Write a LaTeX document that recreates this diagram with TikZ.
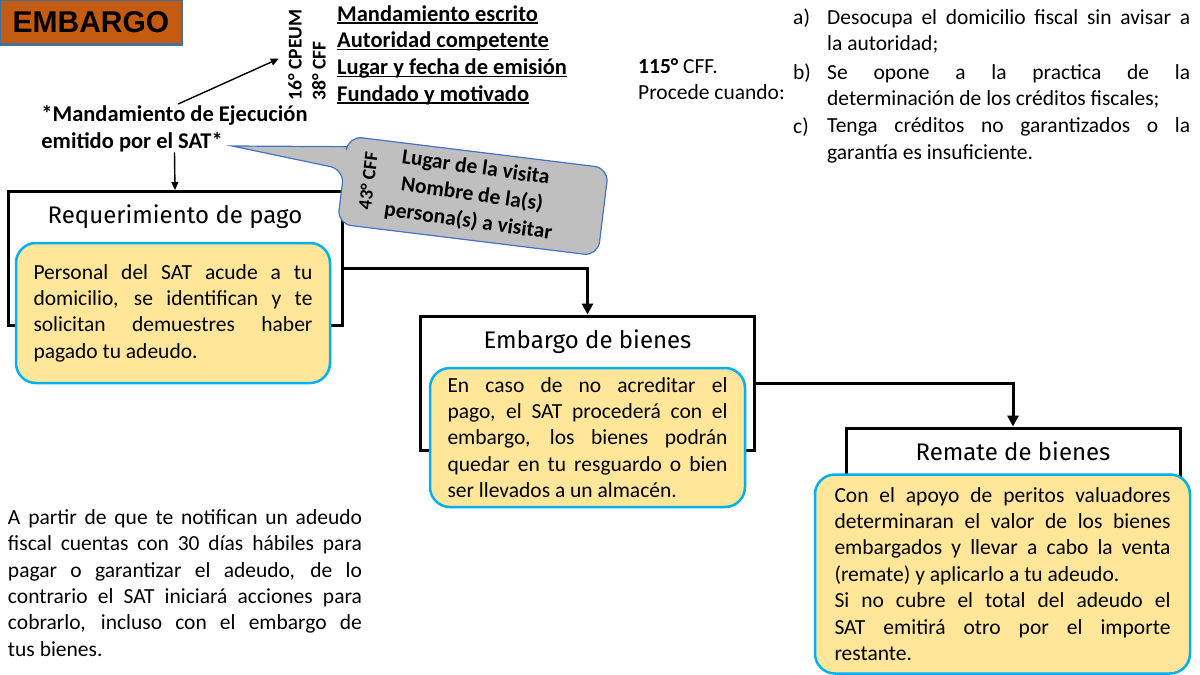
\documentclass[tikz,border=0pt]{standalone}
\usepackage{fontspec}
\setmainfont{Carlito}
\newfontfamily\headfont{Fira Sans}
\newfontfamily\tagfont{Liberation Sans}
\usetikzlibrary{positioning,arrows.meta,calc}
\definecolor{notefill}{HTML}{FFE699}
\definecolor{noteline}{HTML}{00B0F0}
\definecolor{tagfill}{HTML}{C55A11}
\definecolor{tagline}{HTML}{41719C}
\definecolor{bubblefill}{HTML}{BFBFBF}
\definecolor{bubbleline}{HTML}{4472C4}
\newcommand{\txt}{\fontsize{21.5}{26.4}\selectfont}
\newcommand{\btxt}{\fontsize{22.5}{26.7}\selectfont\bfseries}
\newcommand{\reqline}[1]{\setbox0\hbox{#1}\rlap{\rule[-2.5pt]{\wd0}{1.4pt}}\box0}
\tolerance=10000

\begin{document}
\begin{tikzpicture}[x=1pt, y=-1pt,
    stage/.style={draw, line width=3pt, minimum width=334pt, minimum height=134pt},
    stagetitle/.style={inner sep=0pt, font=\headfont\fontsize{24}{28}\selectfont},
    note/.style={draw=noteline, fill=notefill, line width=2.5pt, rounded corners=20pt, align=justify, font=\txt, inner xsep=17pt, inner ysep=6pt},
    plain/.style={font=\txt, inner sep=0pt},
    flow/.style={line width=3pt, -{Triangle[length=11pt,width=11pt]}},
    pointer/.style={line width=1.4pt, -{Triangle[length=8pt,width=7pt]}},
    article/.style={rotate=90, font=\bfseries\fontsize{19.5}{20}\selectfont, inner sep=1pt}
]
\useasboundingbox (0,0) rectangle (1200,675);

% Title tag
\node[draw=tagline, fill=tagfill, line width=2.5pt, minimum width=182pt, minimum height=45pt, font=\tagfont\bfseries\fontsize{30}{31}\selectfont] (tag) at (91,22) {EMBARGO};

% Mandamiento and its requisites
\node[plain, font=\btxt, align=left] (mand) at (174.5,129) {*Mandamiento de Ejecución\\emitido por el SAT*};
\node[article] (cpeum) at (295,55) {16° CPEUM};
\node[article] (cff38) at (319,71) {38° CFF};
\node[plain, font=\btxt, align=left, anchor=west] (reqs) at (337,55) {\reqline{Mandamiento escrito}\\\reqline{Autoridad competente}\\\reqline{Lugar y fecha de emisión}\\\reqline{Fundado y motivado}};
\draw[pointer, shorten <=4pt, shorten >=9pt] (mand.north) -- (cpeum.north);

% Article 115
\node[plain, align=left, anchor=west] (art115) at (638,79) {\textbf{115°} CFF.\\Procede cuando:};
\node[plain, anchor=west] (laba) at (793,18) {a)};
\node[plain, anchor=west] (labb) at (793,73) {b)};
\node[plain, anchor=west] (labc) at (793,127) {c)};
\node[plain, text width=363pt, align=justify, anchor=west] (itema) at (827,31.5) {Desocupa el domicilio fiscal sin avisar a\linebreak la autoridad;};
\node[plain, text width=363pt, align=justify, anchor=west] (itemb) at (827,86.5) {Se opone a la practica de la\linebreak determinación de los créditos fiscales;};
\node[plain, text width=363pt, align=justify, anchor=west] (itemc) at (827,140.5) {Tenga créditos no garantizados o la\linebreak garantía es insuficiente.};

% Stages
\node[stage] (req) at (175,258.5) {};
\node[stagetitle, below=15pt of req.north] (reqtitle) {Requerimiento de pago};
\node[note, text width=279pt, minimum width=314pt, minimum height=140pt] (reqnote) at (173,313) {Personal del SAT acude a tu\linebreak domicilio, se identifican y te\linebreak solicitan demuestres haber\linebreak pagado tu adeudo.};

\node[stage] (emb) at (587.5,383) {};
\node[stagetitle, below=15pt of emb.north] (embtitle) {Embargo de bienes};
\node[note, text width=280pt, minimum width=315pt, minimum height=139pt] (embnote) at (587.5,437.5) {En caso de no acreditar el\linebreak pago, el SAT procederá con el\linebreak embargo, los bienes podrán\linebreak quedar en tu resguardo o bien\linebreak ser llevados a un almacén.};

\node[stage] (rem) at (1013,495) {};
\node[stagetitle, below=15pt of rem.north] (remtitle) {Remate de bienes};
\node[note, text width=336pt, minimum width=375pt, minimum height=199pt] (remnote) at (1002.5,574) {Con el apoyo de peritos valuadores\linebreak determinaran el valor de los bienes\linebreak embargados y llevar a cabo la venta\linebreak (remate) y aplicarlo a tu adeudo.\\Si no cubre el total del adeudo el\linebreak SAT emitirá otro por el importe\linebreak restante.};

\draw[pointer] (mand.south) -- (req.north);
\draw[flow] ([yshift=-10pt]req.east) -| (emb.north);
\draw[flow] (emb.east) -| (rem.north);

% Callout for article 43
\coordinate (tip) at (232,146);
\node[rotate=-7, minimum width=262pt, minimum height=88pt, inner sep=0pt] (bubble) at (473,196) {};
\draw[bubbleline, fill=bubblefill, line width=1.2pt, rounded corners=14pt]
  (bubble.north west) -- (bubble.north east) -- (bubble.south east) -- (bubble.south west)
  -- ($(bubble.south west)!0.62!(bubble.north west)$) [sharp corners] -- (tip)
  -- ($(bubble.south west)!0.88!(bubble.north west)$) [rounded corners=14pt] -- cycle;
\node[rotate=83, font=\bfseries\fontsize{19}{20}\selectfont, inner sep=0pt] (art43) at (368,181) {43° CFF};
\node[rotate=-8, font=\bfseries\fontsize{21.5}{27}\selectfont, align=center, inner sep=0pt] (visit) at (472,195) {Lugar de la visita\\Nombre de la(s)\\persona(s) a visitar};

% Deadline note
\node[plain, text width=354pt, align=justify] (plazo) at (185,583) {A partir de que te notifican un adeudo\linebreak fiscal cuentas con 30 días hábiles para\linebreak pagar o garantizar el adeudo, de lo\linebreak contrario el SAT iniciará acciones para\linebreak cobrarlo, incluso con el embargo de\linebreak tus bienes.};
\end{tikzpicture}
\end{document}
